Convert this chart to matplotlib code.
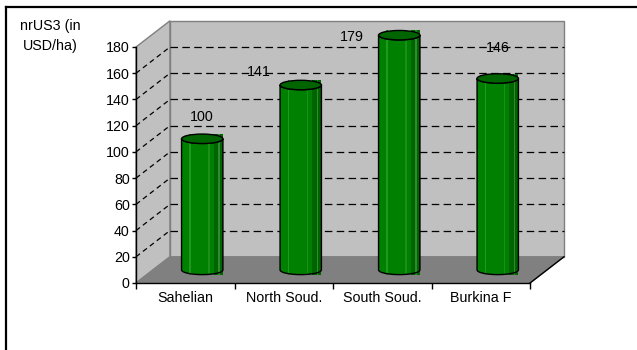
import numpy as np
import matplotlib
matplotlib.use("Agg")
import matplotlib.pyplot as plt
from matplotlib.patches import Polygon, Ellipse, Rectangle
from matplotlib.lines import Line2D

plt.rcParams['font.family'] = ['Liberation Sans', 'DejaVu Sans']

# data
regions = ['Sahelian', 'North Soud.', 'South Soud.', 'Burkina F']
values = [100, 141, 179, 146]
y_ticks = [0, 20, 40, 60, 80, 100, 120, 140, 160, 180]
y_title = 'nrUS3 (in\nUSD/ha)'

# label offsets in pixels from the cylinder top (Excel put them a bit oddly)
label_offsets = [(0, 22), (-42, 13), (-47, -2), (0, 30)]

# 3D look: depth offset of back wall in data units
DX, DY = 0.345, 20
WALL = '#c0c0c0'
FLOOR = '#808080'
EDGE = '#808080'
FS = 10.3

fig = plt.figure(figsize=(6.37, 3.5), dpi=100)
ax = fig.add_axes([136/637, 1-283/350, 394/637, 236/350])
ax.set_xlim(0, 4)
ax.set_ylim(0, 180)
ax.patch.set_visible(False)

n = len(regions)
top = y_ticks[-1]

# walls and floor
side = Polygon([(0, 0), (DX, DY), (DX, top+DY), (0, top)], closed=True,
               facecolor=WALL, edgecolor=EDGE, lw=1, clip_on=False, zorder=0)
back = Polygon([(DX, DY), (n+DX, DY), (n+DX, top+DY), (DX, top+DY)], closed=True,
               facecolor=WALL, edgecolor=EDGE, lw=1, clip_on=False, zorder=0)
floor = Polygon([(0, 0), (n, 0), (n+DX, DY), (DX, DY)], closed=True,
                facecolor=FLOOR, edgecolor=EDGE, lw=1, clip_on=False, zorder=0.5)
for p in (side, back, floor):
    ax.add_patch(p)
ax.plot([n, n+DX], [0, DY], color='black', lw=1, clip_on=False, zorder=0.6)

# gridlines on side and back wall
for v in y_ticks[1:-1]:
    ax.plot([DX, n+DX], [v+DY, v+DY], color='black', lw=0.9,
            ls=(0, (6, 3.5)), clip_on=False, zorder=0.7)
    ax.plot([0, DX], [v, v+DY], color='black', lw=0.9,
            ls=(0, (4, 3)), clip_on=False, zorder=0.7)

# cylinders
w, h = 0.21, 3.6
t = np.linspace(0, np.pi, 40)
base = DY / 2
for i, v in enumerate(values):
    cx = i + 0.5 + DX / 2
    yt = v + base
    pts = [(cx-w, yt), (cx-w, base)]
    pts += list(zip(cx - w*np.cos(t), base - h*np.sin(t)))
    pts += [(cx+w, yt)]
    pts += list(zip(cx + w*np.cos(t), yt - h*np.sin(t)))
    body = Polygon(pts, closed=True, facecolor='#008000', edgecolor='none',
                   clip_on=False, zorder=2)
    ax.add_patch(body)
    shades = [(0.55, 1.0, '#006400'), (0.78, 0.84, '#2e8b2e'),
              (-0.62, -0.55, '#1f9a1f'), (0.3, 0.36, '#1a8f1a')]
    for a, b, c in shades:
        r = Rectangle((cx + a*w, base - h), (b - a)*w, v + 2*h, facecolor=c,
                      edgecolor='none', zorder=2.1, clip_on=False)
        ax.add_patch(r)
        r.set_clip_path(body)
    ax.add_patch(Polygon(pts, closed=True, facecolor='none', edgecolor='black',
                         lw=1, clip_on=False, zorder=2.2))
    ax.add_patch(Ellipse((cx, yt), 2*w, 2*h, facecolor='#006400',
                         edgecolor='black', lw=1, clip_on=False, zorder=2.3))
    ax.annotate(str(v), (cx, yt), xytext=label_offsets[i],
                textcoords='offset pixels', ha='center', va='center',
                fontsize=FS, zorder=3, annotation_clip=False)

# axes
for s in ('top', 'right'):
    ax.spines[s].set_visible(False)
for s in ('left', 'bottom'):
    ax.spines[s].set_color('black')
    ax.spines[s].set_linewidth(1)
ax.set_yticks(y_ticks)
ax.tick_params(axis='y', direction='out', length=3, width=1, pad=1.5, labelsize=FS)
ax.set_xticks(range(n + 1))
ax.set_xticklabels([])
ax.tick_params(axis='x', which='major', direction='out', length=4, width=1)
ax.set_xticks(np.arange(n) + 0.5, minor=True)
ax.set_xticklabels(regions, minor=True)
ax.tick_params(axis='x', which='minor', length=0, pad=6, labelsize=FS)

fig.text(50/637, 1-36/350, y_title, ha='center', va='center', fontsize=FS,
         multialignment='center', linespacing=1.55)

# chart border (cut off at right and bottom)
fig.add_artist(Line2D([6.5/637, 6.5/637], [0, 1-7/350], color='black', lw=1.6))
fig.add_artist(Line2D([6.5/637, 1], [1-7/350, 1-7/350], color='black', lw=1.6))

fig.savefig('out.png', dpi=100)
